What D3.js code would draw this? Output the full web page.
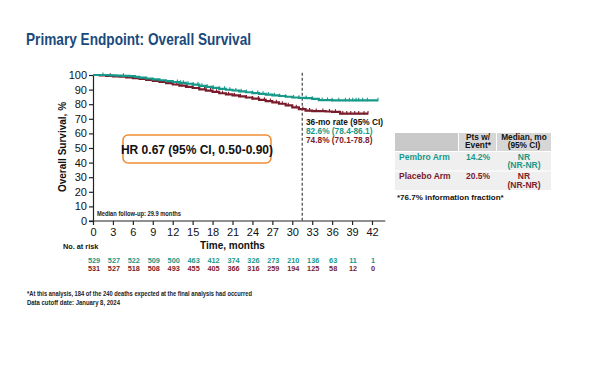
<!DOCTYPE html>
<html><head><meta charset="utf-8">
<script src="https://cdn.jsdelivr.net/npm/d3@7/dist/d3.min.js"></script>
<style>body{margin:0;background:#fff}svg{display:block;font-family:"Liberation Sans",Arial,sans-serif}</style>
</head><body>
<svg id="c" width="600" height="365"></svg>
<script>
// ---- data ----
const xTicks = [0,3,6,9,12,15,18,21,24,27,30,33,36,39,42];
const yTicks = [0,10,20,30,40,50,60,70,80,90,100];
const pembroKM = [[0,100],[1.5,100],[2.5,99.8],[3.5,99.6],[4.5,99.4],[5.5,99.2],[6.3,98.7],[7,98.2],[8,97.6],[9,97.0],[10,96.4],[11,95.8],[12,95.2],[13,94.6],[14,94.0],[15,93.4],[16,92.6],[17,91.9],[18,91.2],[19,90.5],[20,89.9],[21,89.4],[22,88.8],[23,88.2],[24,87.6],[25,87.1],[26,86.6],[27,86.1],[28,85.6],[29,85.1],[30,84.6],[31,84.3],[32,84.1],[33,83.6],[34,82.8],[36,82.6],[42.9,82.6]];
const placeboKM = [[0,100],[1,99.7],[2,99.4],[3,99.1],[4,98.8],[5,98.4],[6,97.9],[7,97.3],[8,96.6],[9,96.0],[10,95.2],[11,94.4],[12,93.5],[13,92.7],[14,91.9],[15,91.1],[16,90.2],[17,89.3],[18,88.4],[19,87.5],[20,86.7],[21,86.0],[22,85.3],[23,84.6],[24,83.8],[25,83.0],[26,82.1],[27,81.2],[28,80.3],[29,79.2],[30,77.8],[31,76.6],[32,75.6],[33,75.3],[35,75.0],[36,74.8],[37.2,73.5],[41.4,73.5]];
const pembroCensor = [1.5,4.6,12.7,13.2,13.6,14.3,15.1,15.8,16.4,17.2,18.1,19.0,19.8,20.6,21.5,22.3,23.1,24.0,24.8,25.6,26.4,27.3,28.1,29.0,30.2,31.0,32.1,33.0,34.5,35.3,36.0,37.0,38.0,38.6,39.1,39.6,40.0,40.6,41.3,42.9];
const placeboCensor = [2.6,6.2,11.8,12.6,13.4,14.2,15.0,16.0,16.8,17.7,18.6,19.5,20.4,21.3,22.2,23.1,24.0,24.9,25.8,26.7,27.6,28.5,29.4,30.6,31.6,32.6,33.6,34.6,35.6,36.5,37.6,38.2,38.8,39.4,40.0,40.8,41.4];
const atRiskPembro = [529,527,522,509,500,463,412,374,326,273,210,136,63,11,1];
const atRiskPlacebo = [531,527,518,508,493,455,405,366,316,259,194,125,58,12,0];
const rateLines = ["36-mo rate (95% CI)","82.6% (78.4-86.1)","74.8% (70.1-78.8)"];
const tableArms = ["Pembro Arm","Placebo Arm"];
const tableEvents = ["14.2%","20.5%"];
const tableMedian = [["NR","(NR-NR)"],["NR","(NR-NR)"]];
const dashAt = 31.5;

const TEAL = "#17998a", MAROON = "#7a1c2c", NAVY = "#1a4a7c";
const svg = d3.select("#c");
const x = d3.scaleLinear().domain([0,42]).range([93,372]);
const y = d3.scaleLinear().domain([0,100]).range([221,75]);

// title
svg.append("text").attr("x",26).attr("y",44.5).attr("fill",NAVY)
  .attr("font-size",17).attr("font-weight","bold")
  .attr("textLength",225).attr("lengthAdjust","spacingAndGlyphs")
  .text("Primary Endpoint: Overall Survival");

// y axis
const ya = svg.append("g").attr("transform",`translate(${x(0)},0)`)
  .call(d3.axisLeft(y).tickValues(yTicks).tickSize(4).tickPadding(2).tickSizeOuter(0));
ya.selectAll("text").attr("font-size",11).attr("fill","#111").attr("font-family","Liberation Sans, Arial");
ya.selectAll("line,path").attr("stroke","#222").attr("stroke-width",1.2);

// x axis
const xa = svg.append("g").attr("transform",`translate(0,${y(0)})`)
  .call(d3.axisBottom(x).tickValues(xTicks).tickSize(4).tickPadding(3).tickSizeOuter(0));
xa.select(".domain").attr("d",`M${x(-0.6)},0H${x(44)}`);
xa.selectAll("text").attr("font-size",11).attr("fill","#111").attr("font-family","Liberation Sans, Arial");
xa.selectAll("line,path").attr("stroke","#222").attr("stroke-width",1.2);

// axis titles
svg.append("text").attr("transform",`translate(66,147) rotate(-90)`).attr("text-anchor","middle")
  .attr("font-size",10).attr("font-weight","bold").attr("fill","#111").text("Overall Survival, %");
svg.append("text").attr("x",x(21)).attr("y",249).attr("text-anchor","middle")
  .attr("font-size",10).attr("font-weight","bold").attr("fill","#111").text("Time, months");

// dashed line
svg.append("line").attr("x1",x(dashAt)).attr("x2",x(dashAt)).attr("y1",y(101.5)).attr("y2",y(0))
  .attr("stroke","#555").attr("stroke-width",1.3).attr("stroke-dasharray","3,2");

// KM curves
const line = d3.line().x(d=>x(d[0])).y(d=>y(d[1])).curve(d3.curveStepAfter);
function survAt(km,t){let s=km[0][1];for(const p of km){if(p[0]<=t)s=p[1];}return s;}
[[placeboKM,placeboCensor,MAROON],[pembroKM,pembroCensor,TEAL]].forEach(([km,cs,col])=>{
  svg.append("path").datum(km).attr("d",line).attr("fill","none").attr("stroke",col).attr("stroke-width",2.2);
  svg.append("g").selectAll("line").data(cs).join("line")
    .attr("x1",d=>x(d)).attr("x2",d=>x(d))
    .attr("y1",d=>y(survAt(km,d))-2.6).attr("y2",d=>y(survAt(km,d))+0.8)
    .attr("stroke",col).attr("stroke-width",1.1);
});

// median follow-up
svg.append("text").attr("x",97).attr("y",215.5).attr("font-size",7).attr("font-weight","bold").attr("fill","#222")
  .attr("textLength",84).attr("lengthAdjust","spacingAndGlyphs").text("Median follow-up: 29.9 months");

// HR box
svg.append("rect").attr("x",123).attr("y",135).attr("width",148).attr("height",28).attr("rx",5)
  .attr("fill","#fff").attr("stroke","#ef8f34").attr("stroke-width",1.6);
svg.append("text").attr("x",197).attr("y",153.5).attr("text-anchor","middle").attr("font-size",12)
  .attr("font-weight","bold").attr("fill","#111").text("HR 0.67 (95% CI, 0.50-0.90)");

// 36-mo rate
const rateCols = ["#111",TEAL,MAROON];
svg.append("g").selectAll("text").data(rateLines).join("text")
  .attr("x",306).attr("y",(d,i)=>125+i*9.2).attr("font-size",8.3).attr("font-weight","bold")
  .attr("fill",(d,i)=>rateCols[i]).text(d=>d);

// at-risk
svg.append("text").attr("x",63).attr("y",249).attr("font-size",7.3).attr("font-weight","bold").attr("fill","#111").text("No. at risk");
[[atRiskPembro,TEAL,263],[atRiskPlacebo,MAROON,271.3]].forEach(([arr,col,yy])=>{
  svg.append("g").selectAll("text").data(arr).join("text")
    .attr("x",(d,i)=>x(xTicks[i])+1).attr("y",yy).attr("text-anchor","middle")
    .attr("font-size",7.3).attr("font-weight","bold").attr("fill",col).text(d=>d);
});

// table
const tx = [395,459,497,551];
const g = svg.append("g");
g.append("rect").attr("x",tx[0]).attr("y",133).attr("width",tx[1]-tx[0]-1).attr("height",18).attr("fill","#c9c9c9");
g.append("rect").attr("x",tx[1]).attr("y",133).attr("width",tx[2]-tx[1]-1).attr("height",18).attr("fill","#d6d6d6");
g.append("rect").attr("x",tx[2]).attr("y",133).attr("width",tx[3]-tx[2]).attr("height",18).attr("fill","#d6d6d6");
[0,1].forEach(i=>{
  const ry = 152 + i*19.5;
  g.append("rect").attr("x",tx[0]).attr("y",ry).attr("width",tx[3]-tx[0]).attr("height",18.5).attr("fill","#efefef");
  const col = i===0?TEAL:MAROON;
  g.append("text").attr("x",399).attr("y",ry+7.5).attr("font-size",8.5).attr("font-weight","bold").attr("fill",col).text(tableArms[i]);
  g.append("text").attr("x",(tx[1]+tx[2])/2).attr("y",ry+7.5).attr("text-anchor","middle").attr("font-size",8.5).attr("font-weight","bold").attr("fill",col).text(tableEvents[i]);
  g.append("text").attr("x",(tx[2]+tx[3])/2).attr("y",ry+7.5).attr("text-anchor","middle").attr("font-size",8.5).attr("font-weight","bold").attr("fill",col).text(tableMedian[i][0]);
  g.append("text").attr("x",(tx[2]+tx[3])/2).attr("y",ry+16).attr("text-anchor","middle").attr("font-size",8.5).attr("font-weight","bold").attr("fill",col).text(tableMedian[i][1]);
});
g.append("text").attr("x",(tx[1]+tx[2])/2).attr("y",139.5).attr("text-anchor","middle").attr("font-size",8.3).attr("font-weight","bold").attr("fill","#111").text("Pts w/");
g.append("text").attr("x",(tx[1]+tx[2])/2).attr("y",148).attr("text-anchor","middle").attr("font-size",8.3).attr("font-weight","bold").attr("fill","#111").text("Event*");
g.append("text").attr("x",(tx[2]+tx[3])/2).attr("y",139.5).attr("text-anchor","middle").attr("font-size",8.3).attr("font-weight","bold").attr("fill","#111").text("Median, mo");
g.append("text").attr("x",(tx[2]+tx[3])/2).attr("y",148).attr("text-anchor","middle").attr("font-size",8.3).attr("font-weight","bold").attr("fill","#111").text("(95% CI)");
g.append("text").attr("x",397).attr("y",199.5).attr("font-size",8).attr("font-weight","bold").attr("fill","#111").text("*76.7% information fraction*");

// footnotes
svg.append("text").attr("x",27).attr("y",296).attr("font-size",7).attr("font-weight","bold").attr("fill","#222")
  .attr("textLength",225).attr("lengthAdjust","spacingAndGlyphs")
  .text("*At this analysis, 184 of the 240 deaths expected at the final analysis had occurred");
svg.append("text").attr("x",27).attr("y",304.5).attr("font-size",7).attr("font-weight","bold").attr("fill","#222")
  .attr("textLength",93).attr("lengthAdjust","spacingAndGlyphs")
  .text("Data cutoff date: January 8, 2024");
</script>
</body></html>
